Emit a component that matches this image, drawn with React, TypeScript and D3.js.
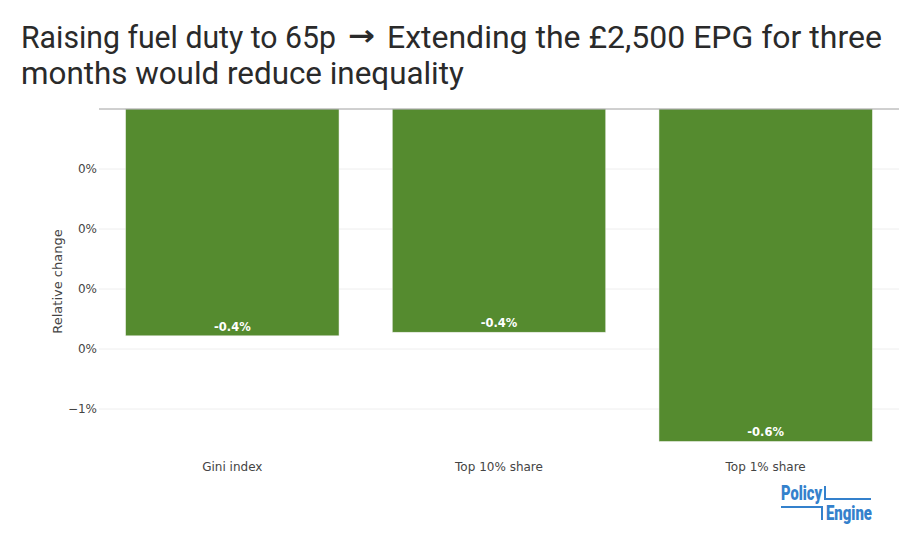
import { useRef, useEffect } from 'react';
import * as d3 from 'd3';

const categories = ['Gini index', 'Top 10% share', 'Top 1% share'];
const values = [-0.00378, -0.00372, -0.00554];
const tickValues = [-0.001, -0.002, -0.003, -0.004, -0.005];
const tickLabels = ['0%', '0%', '0%', '0%', '\u22121%'];
const titleStart = 'Raising fuel duty to 65p';
const titleArrow = '\u2192';
const titleEnd = 'Extending the \u00a32,500 EPG for three';
const titleLine2 = 'months would reduce inequality';

const W = 911;
const H = 552;
const AXIS_FONT = '"DejaVu Sans", Verdana, sans-serif';

export default function App() {
  const svgRef = useRef<SVGSVGElement>(null);

  useEffect(() => {
    if (!svgRef.current) return;
    const svg = d3.select(svgRef.current);
    svg.selectAll('*').remove();

    const plot = { left: 99, right: 899, top: 109, bottom: 454 };

    const x = d3
      .scaleBand<string>()
      .domain(categories)
      .range([plot.left, plot.right])
      .paddingInner(0.2)
      .paddingOuter(0.1);

    const y = d3
      .scaleLinear()
      .domain([-0.00575, 0])
      .range([plot.bottom, plot.top]);

    // Title: squeezed horizontally to the reference's narrower face
    const part = (
      s: string,
      tx: number,
      ty: number,
      len: number,
      family = 'Roboto, sans-serif',
      size = 32,
      weight = 'normal'
    ) => {
      const t = svg
        .append('text')
        .attr('fill', '#2a2a2a')
        .attr('font-family', family)
        .attr('font-size', `${size}px`)
        .attr('font-weight', weight)
        .text(s);
      const w = (t.node() as SVGTextElement).getComputedTextLength() || len;
      t.attr('transform', `translate(${tx},${ty}) scale(${len / w},1)`);
    };
    part(titleStart, 21, 48, 315);
    part(titleArrow, 348, 45, 27, AXIS_FONT, 28, 'bold');
    part(titleEnd, 387, 48, 495);
    part(titleLine2, 21, 84, 443);

    // Gridlines
    svg
      .append('g')
      .selectAll('line')
      .data(tickValues)
      .enter()
      .append('line')
      .attr('x1', plot.left)
      .attr('x2', plot.right)
      .attr('y1', (d) => y(d))
      .attr('y2', (d) => y(d))
      .attr('stroke', '#eeeeee')
      .attr('stroke-width', 1);

    // Tick labels
    svg
      .append('g')
      .selectAll('text')
      .data(tickValues)
      .enter()
      .append('text')
      .attr('x', plot.left - 2)
      .attr('y', (d) => y(d) + 4)
      .attr('text-anchor', 'end')
      .attr('fill', '#444')
      .attr('font-family', AXIS_FONT)
      .attr('font-size', '12px')
      .text((_, i) => tickLabels[i]);

    // Bars
    svg
      .append('g')
      .selectAll('rect')
      .data(values)
      .enter()
      .append('rect')
      .attr('x', (_, i) => x(categories[i])!)
      .attr('y', y(0))
      .attr('width', x.bandwidth())
      .attr('height', (d) => y(d) - y(0))
      .attr('fill', '#558b2f')
      .attr('stroke', '#e8ece4')
      .attr('stroke-width', 0.5);

    // Bar labels
    const fmt = d3.format('.1%');
    svg
      .append('g')
      .selectAll('text')
      .data(values)
      .enter()
      .append('text')
      .attr('x', (_, i) => x(categories[i])! + x.bandwidth() / 2)
      .attr('y', (d) => y(d) - 5)
      .attr('text-anchor', 'middle')
      .attr('fill', '#fff')
      .attr('font-family', AXIS_FONT)
      .attr('font-weight', 'bold')
      .attr('font-size', '11.5px')
      .text((d) => fmt(d).replace('\u2212', '-'));

    // Zero line
    svg
      .append('line')
      .attr('x1', plot.left)
      .attr('x2', plot.right)
      .attr('y1', y(0))
      .attr('y2', y(0))
      .attr('stroke', '#a0a0a0')
      .attr('stroke-width', 1);

    // X labels
    svg
      .append('g')
      .selectAll('text')
      .data(categories)
      .enter()
      .append('text')
      .attr('x', (d) => x(d)! + x.bandwidth() / 2)
      .attr('y', plot.bottom + 17)
      .attr('text-anchor', 'middle')
      .attr('fill', '#444')
      .attr('font-family', AXIS_FONT)
      .attr('font-size', '12px')
      .text((d) => d);

    // Y axis title
    svg
      .append('text')
      .attr('transform', `translate(62,${(plot.top + plot.bottom) / 2}) rotate(-90)`)
      .attr('text-anchor', 'middle')
      .attr('fill', '#444')
      .attr('font-family', AXIS_FONT)
      .attr('font-size', '13px')
      .text('Relative change');

    // Logo
    const blue = '#3481cc';
    const logo = svg.append('g');
    logo
      .append('text')
      .attr('x', 781)
      .attr('y', 500)
      .attr('fill', blue)
      .attr('font-family', 'Roboto, sans-serif')
      .attr('font-weight', 900)
      .attr('font-size', '20px')
      .attr('textLength', 41)
      .attr('lengthAdjust', 'spacingAndGlyphs')
      .text('Policy');
    logo
      .append('text')
      .attr('x', 826)
      .attr('y', 520)
      .attr('fill', blue)
      .attr('font-family', 'Roboto, sans-serif')
      .attr('font-weight', 900)
      .attr('font-size', '20px')
      .attr('textLength', 46)
      .attr('lengthAdjust', 'spacingAndGlyphs')
      .text('Engine');
    logo
      .append('path')
      .attr('d', 'M825,486V499H871')
      .attr('fill', 'none')
      .attr('stroke', blue)
      .attr('stroke-width', 2);
    logo
      .append('path')
      .attr('d', 'M781,507H822V520')
      .attr('fill', 'none')
      .attr('stroke', blue)
      .attr('stroke-width', 2);
  }, []);

  return (
    <div style={{ position: 'absolute', left: 0, top: 0, background: '#fff' }}>
      <svg ref={svgRef} width={W} height={H} style={{ display: 'block' }} />
    </div>
  );
}
